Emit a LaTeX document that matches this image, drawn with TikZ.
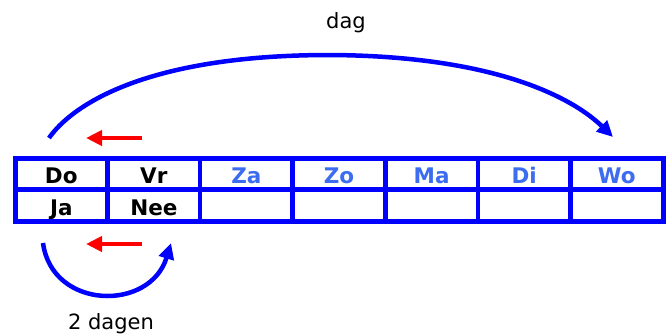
\documentclass[tikz,border=0pt]{standalone}
\usepackage{fontspec}
\setmainfont{DejaVu Sans}
\usetikzlibrary{arrows.meta}
\definecolor{tblue}{RGB}{0,0,255}
\definecolor{txtblue}{RGB}{60,108,240}
\definecolor{ared}{RGB}{255,0,0}
\tikzset{
  cell/.style={inner sep=0pt, anchor=base, font=\fontsize{21.5}{25}\selectfont\bfseries},
  wk/.style={cell, text=black},
  we/.style={cell, text=txtblue},
  grid/.style={draw=tblue, line width=4.6pt},
  outer/.style={draw=tblue, line width=5pt},
  bluearc/.style={draw=tblue, line width=4.5pt, -{Triangle[length=16pt,width=15pt]}},
  redarrow/.style={draw=ared, line width=4pt, -{Triangle[length=16pt,width=15pt]}},
  lbl/.style={font=\fontsize{21}{25}\selectfont, text=black, anchor=base, inner sep=0pt}
}
\begin{document}
\begin{tikzpicture}[x=1pt,y=-1pt]
\useasboundingbox (0,0) rectangle (669,333);
\fill[white] (0,0) rectangle (669,333);
% table cells
\foreach \i/\t/\s in {0/Do/wk,1/Vr/wk,2/Za/we,3/Zo/we,4/Ma/we,5/Di/we,6/Wo/we}{
  \node[\s] (r1c\i) at (15+92.57*\i+46.285,183.5) {\t};
}
\foreach \i/\t in {0/Ja,1/Nee}{
  \node[wk] (r2c\i) at (15+92.57*\i+46.285,215) {\t};
}
% grid lines
\foreach \i in {1,...,6}{
  \draw[grid] (15+92.57*\i,158) -- (15+92.57*\i,221);
}
\draw[grid] (15,189.5) -- (663,189.5);
\draw[outer] (15,158) rectangle (663,221);
% arcs
\coordinate (bs) at (49,138);
\coordinate (bt) at (330,55);
\coordinate (be) at (613,137);
\draw[bluearc] (bs) .. controls (70,108) and (140,55) .. (bt)
   .. controls (500,56) and (575,100) .. (be);
\coordinate (ss) at (43,243);
\coordinate (se) at (171,243);
\draw[bluearc] (ss) .. controls (52,310) and (150,312) .. (se);
% red arrows
\coordinate (t1) at (142,138);
\coordinate (h1) at (86,138);
\draw[redarrow] (t1) -- (h1);
\coordinate (t2) at (142,244);
\coordinate (h2) at (86,244);
\draw[redarrow] (t2) -- (h2);
% labels
\node[lbl] (dag) at (346,28) {dag};
\node[lbl] (dagen) at (111,329) {2 dagen};
\end{tikzpicture}
\end{document}
